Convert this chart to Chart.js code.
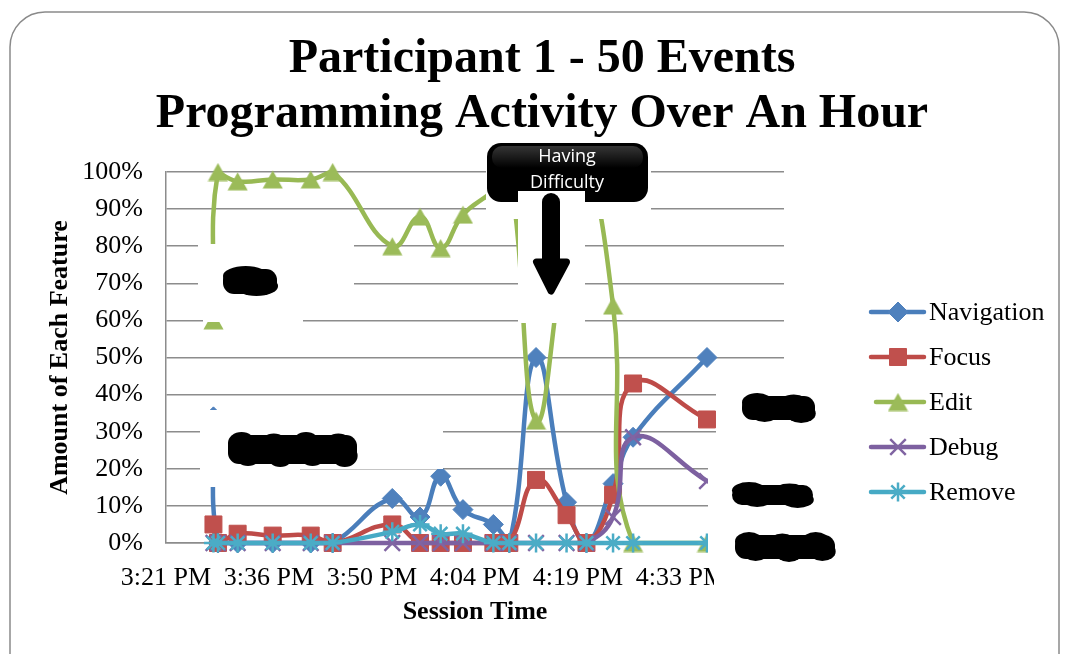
<!DOCTYPE html>
<html>
<head>
<meta charset="utf-8">
<script src="https://cdn.jsdelivr.net/npm/chart.js@4.4.1/dist/chart.umd.min.js"></script>
<style>
  html, body { margin: 0; padding: 0; background: #ffffff; }
  canvas { display: block; }
</style>
</head>
<body>
<canvas id="activity" width="1068" height="654"></canvas>
<script>
// Clock time of each 50-event window in the session
const sampleTimes = ['15:28:14', '15:28:52', '15:31:37', '15:36:31', '15:41:50', '15:44:54',
                     '15:53:14', '15:57:07', '16:00:00', '16:03:07', '16:07:22', '16:09:36',
                     '16:13:20', '16:17:36', '16:20:23', '16:24:06', '16:26:54', '16:37:14'];

// Share of each feature inside each window (%)
const navigation = [34, 0, 0, 0, 0, 0, 12, 7, 18, 9, 5, 0, 50, 11, 0, 16, 28.5, 50];
const focus      = [5, 0, 2.5, 2, 2, 0, 5, 0, 0, 0, 0, 0, 17, 7.5, 0, 13, 43, 33.3];
const edit       = [60, 100, 97.5, 98, 98, 100, 80, 88, 79.5, 88.5, 95, 100, 33, 81.5, 100, 64, 0, 0];
const debug      = [0, 0, 0, 0, 0, 0, 0, 0, 0, 0, 0, 0, 0, 0, 0, 7, 28.5, 16.7];
const remove     = [0, 0, 0, 0, 0, 0, 3, 5, 2.5, 2.5, 0, 0, 0, 0, 0, 0, 0, 0];

const seriesNames = ['Navigation', 'Focus', 'Edit', 'Debug', 'Remove'];

// Time axis: one tick every 0.01 day (14.4 min), first tick at 0.64 day
const timeTickLabels = ['3:21 PM', '3:36 PM', '3:50 PM', '4:04 PM', '4:19 PM', '4:33 PM', '4:48 PM'];
const firstTickDayPct = 64;

const chartTitle = ['Participant 1 - 50 Events', 'Programming Activity Over An Hour'];
const calloutLines = ['Having', 'Difficulty'];

// ---------------------------------------------------------------------------
const SERIF = '"Liberation Serif", "Times New Roman", serif';
const GRID = '#8c8c8c';

// clock string -> hundredths of a day (axis unit)
function dayPct(t) {
  const [h, m, s] = t.split(':').map(Number);
  return (h * 3600 + m * 60 + s) / 864;
}

// upright triangle marker centred on its bounding box
function triangleMarker(color, w, h) {
  const c = document.createElement('canvas');
  c.width = w; c.height = h;
  const g = c.getContext('2d');
  g.fillStyle = color;
  g.beginPath();
  g.moveTo(w / 2, 0.5);
  g.lineTo(w - 0.5, h - 0.5);
  g.lineTo(0.5, h - 0.5);
  g.closePath();
  g.fill();
  return c;
}

const looks = [
  { line: '#4A7EBB', mark: '#4F81BD', style: 'rectRot', radius: 10, bw: 1 },
  { line: '#BE4B48', mark: '#C0504D', style: 'rect',    radius: 12, bw: 1 },
  { line: '#98B954', mark: '#9BBB59', style: triangleMarker('#9BBB59', 21, 19), radius: 10, bw: 0 },
  { line: '#7D60A0', mark: '#8064A2', style: 'crossRot', radius: 11, bw: 2.5 },
  { line: '#46AAC5', mark: '#4BACC6', style: 'star',    radius: 9.5, bw: 2.5 }
];

const seriesValues = [navigation, focus, edit, debug, remove];

const datasets = seriesValues.map((vals, i) => ({
  label: seriesNames[i],
  data: vals.map((v, k) => ({ x: dayPct(sampleTimes[k]), y: v })),
  borderColor: looks[i].line,
  backgroundColor: looks[i].mark,
  borderWidth: 4.5,
  borderCapStyle: 'round',
  borderJoinStyle: 'round',
  tension: 0.45,
  pointStyle: looks[i].style,
  pointRadius: looks[i].radius,
  pointHoverRadius: looks[i].radius,
  pointBackgroundColor: looks[i].mark,
  pointBorderColor: looks[i].mark,
  pointBorderWidth: looks[i].bw,
  order: seriesValues.length - 1 - i,
  clip: false
}));

function rr(ctx, x, y, w, h, r) {
  ctx.beginPath();
  ctx.moveTo(x + r, y);
  ctx.lineTo(x + w - r, y);
  ctx.arcTo(x + w, y, x + w, y + r, r);
  ctx.lineTo(x + w, y + h - r);
  ctx.arcTo(x + w, y + h, x + w - r, y + h, r);
  ctx.lineTo(x + r, y + h);
  ctx.arcTo(x, y + h, x, y + h - r, r);
  ctx.lineTo(x, y + r);
  ctx.arcTo(x, y, x + r, y, r);
  ctx.closePath();
}

// lumpy black marker-pen blot
function blot(ctx, x0, y0, x1, y1) {
  const w = x1 - x0, h = y1 - y0;
  ctx.fillStyle = '#000';
  rr(ctx, x0, y0 + 3, w, h - 6, Math.min(11, h * 0.38));
  ctx.fill();
  const n = Math.max(1, Math.floor(w / 30));
  const seg = w / n;
  for (let k = 0; k < n; k++) {
    const cx = x0 + seg * (k + 0.5);
    ctx.beginPath();
    ctx.ellipse(cx - seg * 0.08, y0 + h * 0.32 + (k % 2) * 1.5, seg * 0.42, h * 0.32, 0, 0, Math.PI * 2);
    ctx.fill();
    ctx.beginPath();
    ctx.ellipse(cx + seg * 0.12, y1 - h * 0.32 - (k % 2 ? 0 : 1), seg * 0.4, h * 0.32, 0, 0, Math.PI * 2);
    ctx.fill();
  }
}

const decorations = {
  id: 'decorations',
  afterDraw(chart) {
    const ctx = chart.ctx;
    ctx.save();

    // chart title
    ctx.fillStyle = '#000';
    ctx.font = 'bold 48px ' + SERIF;
    ctx.textAlign = 'center';
    ctx.textBaseline = 'alphabetic';
    ctx.fillText(chartTitle[0], 542, 72);
    ctx.fillText(chartTitle[1], 542, 127);

    // white cover boxes
    ctx.fillStyle = '#ffffff';
    [[198, 244, 156, 58], [203, 302, 100, 20],
     [200, 410, 100, 77], [300, 410, 143, 59],
     [486, 138, 165, 81], [518, 219, 67, 104],
     [716, 378, 136, 62], [708, 440, 144, 118], [714, 558, 138, 42]
    ].forEach(b => ctx.fillRect(b[0], b[1], b[2], b[3]));

    // black blots
    blot(ctx, 223, 266, 277, 297);
    blot(ctx, 228, 432, 357, 467);
    blot(ctx, 742, 393, 815, 423);
    blot(ctx, 732, 482, 813, 508);
    blot(ctx, 735, 532, 835, 562);

    // callout box
    ctx.fillStyle = '#000';
    rr(ctx, 487, 143, 161, 59, 14);
    ctx.fill();
    const hl = ctx.createLinearGradient(0, 145, 0, 168);
    hl.addColorStop(0, 'rgba(255,255,255,0.22)');
    hl.addColorStop(1, 'rgba(255,255,255,0)');
    ctx.fillStyle = hl;
    rr(ctx, 492, 146, 151, 22, 10);
    ctx.fill();
    ctx.fillStyle = '#ffffff';
    ctx.fillRect(518, 191, 67, 30);

    ctx.fillStyle = '#ffffff';
    ctx.font = '18px "Open Sans", "Liberation Sans", sans-serif';
    ctx.textAlign = 'center';
    ctx.fillText(calloutLines[0], 567, 162);
    ctx.fillText(calloutLines[1], 567, 188);

    // down arrow
    ctx.fillStyle = '#000';
    ctx.strokeStyle = '#000';
    rr(ctx, 542, 193, 18, 76, 9);
    ctx.fill();
    ctx.lineJoin = 'round';
    ctx.lineWidth = 7;
    ctx.beginPath();
    ctx.moveTo(536.5, 262);
    ctx.lineTo(566.5, 262);
    ctx.lineTo(551, 291);
    ctx.closePath();
    ctx.fill();
    ctx.stroke();

    // legend
    const canDraw = Chart.helpers && Chart.helpers.drawPoint;
    chart.data.datasets.forEach((ds, i) => {
      const y = 312 + i * 45;
      ctx.strokeStyle = ds.borderColor;
      ctx.lineWidth = 4.5;
      ctx.lineCap = 'round';
      ctx.beginPath();
      ctx.moveTo(i === 2 ? 876 : 871, y);
      ctx.lineTo(924, y);
      ctx.stroke();
      ctx.lineCap = 'butt';
      ctx.fillStyle = ds.pointBackgroundColor;
      ctx.strokeStyle = ds.pointBorderColor;
      ctx.lineWidth = ds.pointBorderWidth;
      if (canDraw) {
        Chart.helpers.drawPoint(ctx, {
          pointStyle: ds.pointStyle, radius: ds.pointRadius,
          borderWidth: ds.pointBorderWidth, rotation: 0
        }, 898, y);
      }
      ctx.fillStyle = '#000';
      ctx.font = '26px ' + SERIF;
      ctx.textAlign = 'left';
      ctx.textBaseline = 'middle';
      ctx.fillText(ds.label, 929, y + 1);
    });

    // outer frame
    ctx.strokeStyle = '#8a8a8a';
    ctx.lineWidth = 1.5;
    rr(ctx, 10, 12, 1049, 700, 35);
    ctx.stroke();

    ctx.restore();
  }
};

Chart.defaults.color = '#000';

new Chart(document.getElementById('activity'), {
  type: 'line',
  data: { datasets },
  plugins: [decorations],
  options: {
    responsive: false,
    animation: false,
    devicePixelRatio: 1,
    layout: { padding: { top: 172, right: 284, bottom: 0, left: 0 } },
    plugins: {
      legend: { display: false },
      title: { display: false },
      tooltip: { enabled: false }
    },
    scales: {
      x: {
        type: 'linear',
        min: firstTickDayPct,
        max: firstTickDayPct + timeTickLabels.length - 1,
        ticks: {
          stepSize: 1,
          autoSkip: false,
          maxRotation: 0,
          padding: 20,
          color: '#000',
          font: { family: SERIF, size: 26 },
          callback: v => timeTickLabels[Math.round(v - firstTickDayPct)]
        },
        grid: { display: false, drawTicks: false },
        border: { display: true, color: GRID, width: 1.5 },
        title: {
          display: true,
          text: 'Session Time',
          color: '#000',
          font: { family: SERIF, size: 26, weight: 'bold' },
          padding: { top: 0, bottom: 26 }
        },
        afterFit: s => { s.height = 111; }
      },
      y: {
        min: 0,
        max: 100,
        ticks: {
          stepSize: 10,
          padding: 23,
          color: '#000',
          font: { family: SERIF, size: 26 },
          callback: v => v + '%'
        },
        grid: { color: GRID, lineWidth: 1.5, drawTicks: false },
        border: { color: GRID, width: 1.5 },
        title: {
          display: true,
          text: 'Amount of Each Feature',
          color: '#000',
          font: { family: SERIF, size: 26, weight: 'bold' },
          padding: { top: 45, bottom: 0 }
        },
        afterFit: s => { s.width = 166; }
      }
    }
  }
});
</script>
</body>
</html>
